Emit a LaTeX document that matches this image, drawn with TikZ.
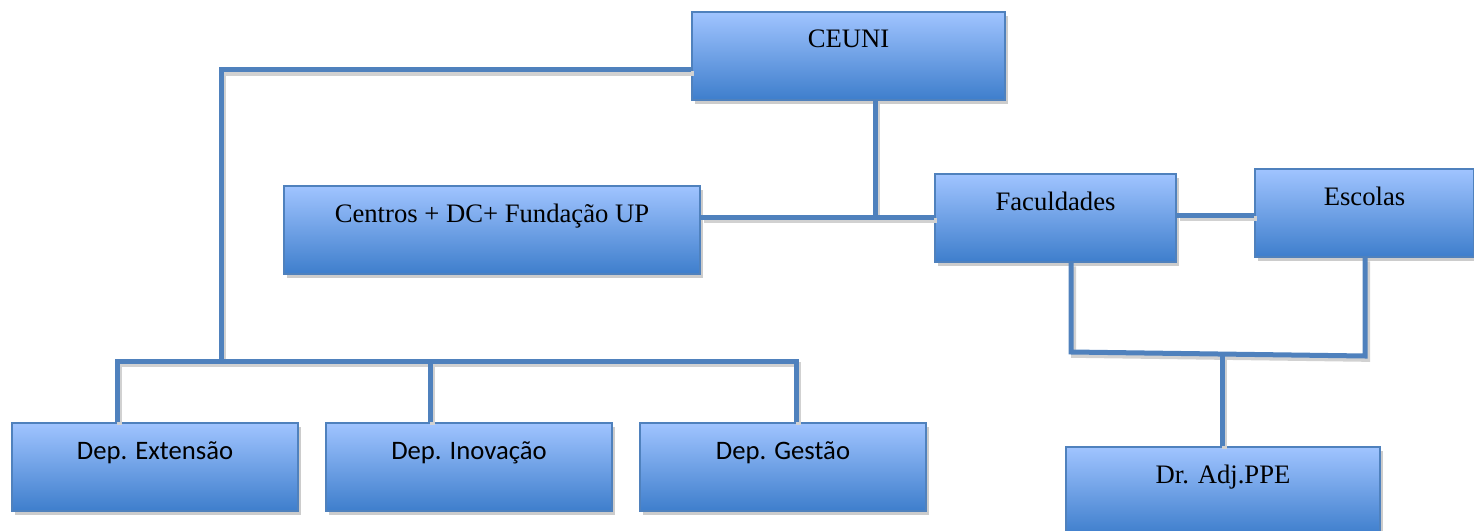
\documentclass[tikz,border=0pt]{standalone}
\usepackage{fontspec}
\setmainfont{Liberation Serif}
\newfontfamily\depfont{Carlito}
\usetikzlibrary{shadows}

\definecolor{boxtop}{RGB}{160,196,255}
\definecolor{boxbot}{RGB}{62,126,204}
\definecolor{boxline}{RGB}{79,129,189}
\definecolor{linkblue}{RGB}{79,129,189}

\tikzset{every picture/.style={line width=0.75pt}}
\tikzset{
  orgbox/.style={draw=boxline, line width=1.5, top color=boxtop, bottom color=boxbot,
    inner sep=0pt, anchor=north west, minimum height=66pt, text height=27pt, text depth=39pt,
    font=\fontsize{20}{24}\selectfont,
    drop shadow={shadow xshift=2.5pt, shadow yshift=-3pt, fill=black!20, opacity=1}},
  depbox/.style={orgbox, minimum width=214.5pt, font=\depfont\fontsize{20}{24}\selectfont},
  link/.style={draw=linkblue, line width=3.75,
    preaction={draw=black!18, line width=3.75, transform canvas={xshift=2pt, yshift=-2.5pt}}}
}

\begin{document}
\begin{tikzpicture}[x=0.75pt,y=0.75pt,yscale=-1,xscale=1]
\useasboundingbox (0,0) rectangle (1474,531);

%Shape: Rectangle
\node[orgbox, minimum width=234.75pt] (ceuni) at (691,11) {CEUNI};
%Shape: Rectangle
\node[orgbox, minimum width=312pt] (centros) at (283,185) {Centros + DC+ Fundação UP};
%Shape: Rectangle
\node[orgbox, minimum width=180.75pt] (fac) at (934,173) {Faculdades};
%Shape: Rectangle
\node[orgbox, minimum width=164.25pt] (esc) at (1254,168) {Escolas};
%Shape: Rectangle
\node[depbox] (ext) at (11,422) {Dep. Extensão};
%Shape: Rectangle
\node[depbox] (ino) at (325,422) {Dep. Inovação};
%Shape: Rectangle
\node[depbox] (ges) at (639,422) {Dep. Gestão};
%Shape: Rectangle
\node[orgbox, minimum width=235.5pt] (dir) at (1065,446) {Dr. Adj.PPE};

\coordinate (topbend) at (221,70);
\coordinate (depbar) at (221,361);
\coordinate (extdrop) at (117,361);
\coordinate (inodrop) at (430,361);
\coordinate (gesdrop) at (796,361);
\coordinate (midjoin) at (875,217);
\coordinate (facdrop) at (1071,352);
\coordinate (escdrop) at (1365,356);
\coordinate (dirjoin) at (1222,354);

%Straight Lines
\draw[link] (ceuni.west |- topbend) -- (topbend) -- (depbar);
%Straight Lines
\draw[link] (extdrop |- ext.north) -- (extdrop) -- (gesdrop) -- (gesdrop |- ges.north);
%Straight Lines
\draw[link] (inodrop) -- (inodrop |- ino.north);
%Straight Lines
\draw[link] (midjoin |- ceuni.south) -- (midjoin);
%Straight Lines
\draw[link] (centros.east |- midjoin) -- (fac.west |- midjoin);
%Straight Lines
\draw[link] (fac.east |- 0,215) -- (esc.west |- 0,215);
%Straight Lines
\draw[link] (facdrop |- fac.south) -- (facdrop) -- (escdrop) -- (escdrop |- esc.south);
%Straight Lines
\draw[link] (dirjoin) -- (dirjoin |- dir.north);

\end{tikzpicture}
\end{document}
